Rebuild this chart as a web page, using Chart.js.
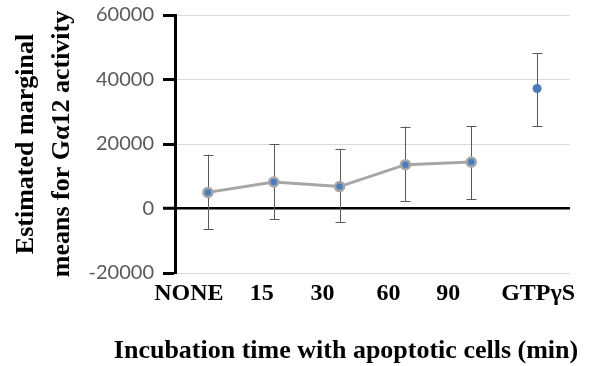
<!DOCTYPE html>
<html><head><meta charset="utf-8">
<script src="https://cdn.jsdelivr.net/npm/chart.js@4.4.1/dist/chart.umd.min.js"></script>
<style>html,body{margin:0;padding:0;background:#fff}#wrap{width:603px;height:366px}</style>
</head><body><div id="wrap"><canvas id="c" width="603" height="366"></canvas></div>
<script>
const categories = ['NONE', '15', '30', '60', '90', 'GTPγS'];
const means = [5000, 8200, 6800, 13600, 14400, 37200];
const upper = [16700, 20000, 18500, 25400, 25600, 48200];
const lower = [-6400, -3300, -4300, 2200, 2900, 25600];
const yTicks = [-20000, 0, 20000, 40000, 60000];
const xTitle = 'Incubation time with apoptotic cells (min)';
const yTitle = ['Estimated marginal', 'means for Gα12 activity'];

const SERIF = '"Liberation Serif", "Times New Roman", serif';
const labelShift = [-19, -12, -17, -17, -23, 1];

const errorBars = {
  id: 'errorBars',
  beforeDatasetsDraw(chart) {
    const ctx = chart.ctx, xs = chart.scales.x, ys = chart.scales.y;
    ctx.save();
    ctx.strokeStyle = '#595959';
    ctx.lineWidth = 1;
    categories.forEach((c, i) => {
      const x = Math.round(xs.getPixelForValue(i)) + 0.5;
      const yt = ys.getPixelForValue(upper[i]);
      const yb = ys.getPixelForValue(lower[i]);
      ctx.beginPath();
      ctx.moveTo(x, yt); ctx.lineTo(x, yb);
      ctx.moveTo(x - 5, Math.round(yt) + 0.5); ctx.lineTo(x + 5, Math.round(yt) + 0.5);
      ctx.moveTo(x - 5, Math.round(yb) + 0.5); ctx.lineTo(x + 5, Math.round(yb) + 0.5);
      ctx.stroke();
    });
    ctx.restore();
  }
};

const xLabels = {
  id: 'xLabels',
  afterDraw(chart) {
    const ctx = chart.ctx, xs = chart.scales.x;
    ctx.save();
    ctx.fillStyle = '#000';
    ctx.textAlign = 'center';
    ctx.textBaseline = 'alphabetic';
    ctx.font = 'bold 24px ' + SERIF;
    categories.forEach((c, i) => {
      ctx.fillText(c, xs.getPixelForValue(i) + labelShift[i], 300);
    });
    ctx.font = 'bold 26px ' + SERIF;
    ctx.fillText(xTitle, 346, 358);
    ctx.restore();
  }
};

new Chart(document.getElementById('c'), {
  type: 'line',
  data: {
    labels: categories,
    datasets: [{
      data: means,
      borderColor: '#a6a6a6',
      borderWidth: 3,
      pointRadius: [4.5, 4.5, 4.5, 4.5, 4.5, 4.5],
      pointBorderWidth: [2.5, 2.5, 2.5, 2.5, 2.5, 0],
      pointBorderColor: '#a6a6a6',
      pointBackgroundColor: '#4a7ebb',
      segment: {
        borderColor: c => c.p1DataIndex === 5 ? 'rgba(255,255,255,0.9)' : '#a6a6a6',
        borderWidth: c => c.p1DataIndex === 5 ? 1 : 3,
        borderDash: c => c.p1DataIndex === 5 ? [2, 2] : []
      }
    }]
  },
  options: {
    responsive: false,
    animation: false,
    events: [],
    layout: { padding: { left: 0, right: 33, top: 15, bottom: 0 } },
    plugins: { legend: { display: false }, tooltip: { enabled: false } },
    scales: {
      x: {
        offset: true,
        grid: { display: false, drawTicks: false },
        border: { display: false },
        ticks: { display: false },
        afterFit(s) { s.height = 93; s.paddingLeft = 0; s.paddingRight = 0; }
      },
      y: {
        min: -20000, max: 60000,
        afterBuildTicks(s) { s.ticks = yTicks.map(v => ({ value: v })); },
        afterFit(s) { s.width = 175; s.paddingTop = 0; s.paddingBottom = 0; },
        border: { display: true, color: '#000', width: 3 },
        grid: {
          color: c => c.tick && c.tick.value === 0 ? '#000' : '#d9d9d9',
          lineWidth: c => c.tick && c.tick.value === 0 ? 2.5 : 1,
          tickColor: '#000',
          tickWidth: 3,
          tickLength: 12
        },
        ticks: {
          padding: 9,
          color: '#595959',
          font: { family: 'Lato', size: 20 },
          callback: v => String(v)
        },
        title: {
          display: true,
          text: yTitle,
          color: '#000',
          padding: { top: 8, bottom: 0 },
          font: { family: SERIF, size: 26, weight: 'bold', lineHeight: 1.385 }
        }
      }
    }
  },
  plugins: [errorBars, xLabels]
});
</script>
</body></html>
